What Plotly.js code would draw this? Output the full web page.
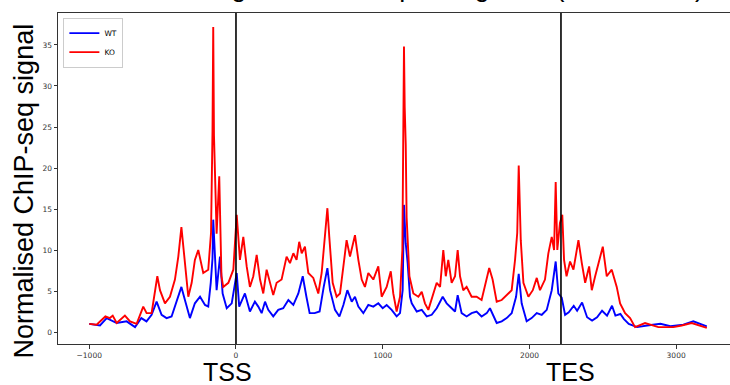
<!DOCTYPE html>
<html>
<head>
<meta charset="utf-8">
<script src="https://cdn.plot.ly/plotly-3.0.1.min.js"></script>
<style>html,body{margin:0;padding:0;background:#fff;}#chart{width:730px;height:385px;}</style>
</head>
<body>
<div id="chart"></div>
<script>
// Positions relative to the TSS (bp, scaled gene body)
const wtX = [-1000,-927,-881,-813,-745,-688,-645,-610,-575,-541,-507,-473,-439,-393,-372,-348,-314,-280,-245,-211,-189,-172,-160,-155,-145,-132,-109,-91,-63,-29,5,22,61,95,129,152,175,198,220,254,288,322,357,391,425,455,480,502,536,570,598,623,641,675,705,732,759,789,811,834,868,902,936,970,1000,1027,1061,1095,1118,1136,1145,1152,1157,1170,1186,1198,1232,1266,1300,1334,1368,1409,1436,1470,1493,1511,1538,1572,1606,1640,1674,1709,1731,1777,1811,1845,1879,1909,1927,1947,1981,2015,2050,2084,2118,2152,2179,2197,2220,2243,2268,2302,2325,2359,2393,2427,2461,2495,2529,2563,2586,2620,2643,2677,2734,2802,2893,2961,3049,3117,3163,3209];
const wtY = [1.0,0.8,1.7,1.1,1.3,0.6,1.7,1.3,2.1,3.7,2.1,1.7,1.9,4.3,5.5,3.9,1.7,3.5,4.3,3.3,3.1,6.0,9.0,13.7,10.0,5.1,9.2,4.7,2.9,3.5,7.2,3.1,4.7,2.5,3.7,3.1,2.3,3.7,2.7,1.9,2.7,2.9,3.9,3.3,4.7,6.8,4.3,2.3,2.3,2.5,5.5,7.8,5.1,2.7,1.9,3.3,5.1,3.7,4.3,3.1,2.3,3.3,3.1,3.5,2.9,3.3,2.7,1.9,2.3,5.1,15.5,11.0,10.8,8.4,4.3,3.5,2.5,2.7,1.9,2.1,2.9,4.3,3.5,2.9,2.5,4.5,2.3,1.9,2.3,2.5,1.9,2.3,2.9,1.1,1.3,1.7,2.3,4.3,7.1,3.5,1.3,1.7,2.3,2.1,2.7,5.1,8.6,4.7,4.2,2.1,2.4,3.2,2.6,3.6,1.8,1.4,1.8,2.6,2.0,3.2,2.0,2.2,1.6,1.0,0.6,0.8,1.0,0.7,0.9,1.3,1.0,0.7];

const koX = [-1000,-950,-890,-860,-840,-813,-757,-722,-677,-632,-609,-575,-536,-518,-484,-450,-416,-393,-372,-348,-325,-302,-280,-257,-223,-189,-170,-160,-155,-150,-145,-132,-114,-99,-87,-52,-18,5,27,50,73,95,118,141,164,186,209,232,254,277,311,345,368,391,413,431,448,470,493,527,561,584,607,623,636,659,686,709,732,754,777,811,834,857,879,902,936,970,993,1027,1055,1072,1095,1118,1134,1141,1145,1150,1157,1163,1168,1182,1209,1243,1266,1288,1311,1334,1368,1391,1413,1430,1447,1470,1493,1511,1527,1549,1572,1606,1640,1674,1704,1726,1749,1777,1811,1845,1879,1902,1917,1927,1941,1959,1993,2023,2050,2072,2106,2129,2152,2168,2179,2190,2208,2224,2236,2253,2277,2300,2334,2357,2380,2407,2425,2448,2475,2500,2527,2561,2595,2618,2652,2686,2720,2788,2879,2981,3038,3106,3209];
const koY = [1.0,0.9,1.9,1.7,2.0,1.1,2.0,1.3,1.0,3.1,2.3,2.3,6.8,5.1,3.5,4.3,6.4,9.2,12.8,8.4,4.3,6.0,8.8,10.0,7.2,7.6,12.1,24.5,37.2,24.0,20.0,12.0,19.0,6.8,5.5,6.0,7.6,14.3,8.8,11.6,8.0,5.5,6.8,9.4,6.4,4.7,7.6,6.0,4.5,6.0,6.4,9.2,8.4,9.6,8.8,11.0,9.6,10.4,7.2,6.6,4.7,7.2,11.6,15.1,11.6,6.0,4.3,4.7,8.0,11.2,9.2,11.8,8.8,6.4,5.5,7.2,6.4,8.0,4.3,5.5,7.4,4.7,2.5,4.3,10.0,22.0,34.8,27.4,22.8,14.0,11.6,6.8,4.7,4.3,4.9,3.5,2.7,4.1,6.0,5.5,10.0,6.8,8.8,6.0,6.8,10.0,6.8,5.1,5.5,4.3,4.3,3.9,6.0,7.8,6.4,3.7,3.9,4.5,5.1,8.8,12.1,20.3,11.2,6.0,4.3,5.1,6.6,5.1,6.4,9.6,11.6,10.0,18.3,10.0,13.3,14.3,8.8,6.8,8.6,7.6,11.2,8.4,6.0,8.0,5.1,6.8,8.8,10.4,6.8,7.6,5.5,3.5,2.3,1.7,0.6,1.1,0.6,0.6,0.8,1.1,0.5];

const seriesNames = ['WT', 'KO'];
const seriesColors = ['#0000ff', '#ff0000'];
const xTickVals = [-1000, 0, 1000, 2000, 3000];
const yTickVals = [0, 5, 10, 15, 20, 25, 30, 35];
const boundaryPos = [0, 2215];
const boundaryLabels = ['TSS', 'TES'];
const boundaryLabelPos = [-55, 2277];

const traces = [
  {x: wtX, y: wtY, name: seriesNames[0], type: 'scatter', mode: 'lines', line: {color: seriesColors[0], width: 1.9}},
  {x: koX, y: koY, name: seriesNames[1], type: 'scatter', mode: 'lines', line: {color: seriesColors[1], width: 1.9}}
];

const shapes = boundaryPos.map(p => ({
  type: 'line', xref: 'x', yref: 'paper', x0: p, x1: p, y0: 0, y1: 1,
  line: {color: '#000', width: 1.6}
}));

const annotations = boundaryLabels.map((t, i) => ({
  text: t, xref: 'x', yref: 'paper', x: boundaryLabelPos[i], y: -0.084,
  xanchor: 'center', yanchor: 'middle', showarrow: false,
  font: {family: 'Liberation Sans, Arial, sans-serif', size: 25, color: '#000'}
}));
annotations.push({
  text: 'Normalised ChIP-seq signal', xref: 'paper', yref: 'paper',
  x: -0.05, y: 0.462, xanchor: 'center', yanchor: 'middle', textangle: -90,
  showarrow: false, font: {family: 'Liberation Sans, Arial, sans-serif', size: 27, color: '#000'}
});

const layout = {
  width: 730, height: 385,
  margin: {l: 58, r: 0, t: 13, b: 41},
  paper_bgcolor: '#fff', plot_bgcolor: '#fff',
  showlegend: true,
  title: {
    text: 'H3K27ac signal across top 500 genes (KO vs. WT)',
    xref: 'container', x: 0.546, xanchor: 'center',
    yref: 'container', y: 1, yanchor: 'bottom', pad: {b: 4},
    font: {family: 'Liberation Sans, Arial, sans-serif', size: 27, color: '#000'}
  },
  xaxis: {
    range: [-1213, 3367], tickvals: xTickVals, ticks: 'outside', ticklen: 3.5, tickwidth: 1,
    tickcolor: '#333', showline: true, linecolor: '#333', linewidth: 1, mirror: true,
    showgrid: false, zeroline: false,
    tickfont: {family: 'DejaVu Sans, sans-serif', size: 7.5, color: '#333'}
  },
  yaxis: {
    range: [-1.46, 38.9], tickvals: yTickVals, ticks: 'outside', ticklen: 3.5, tickwidth: 1,
    tickcolor: '#333', showline: true, linecolor: '#333', linewidth: 1,
    showgrid: false, zeroline: false,
    tickfont: {family: 'DejaVu Sans, sans-serif', size: 7.5, color: '#333'}
  },
  legend: {
    x: 0.008, y: 0.986, xanchor: 'left', yanchor: 'top',
    bgcolor: '#fff', bordercolor: '#cccccc', borderwidth: 1,
    font: {family: 'DejaVu Sans, sans-serif', size: 7.5, color: '#000'},
    itemwidth: 30, tracegroupgap: 0
  },
  shapes: shapes,
  annotations: annotations
};

Plotly.newPlot('chart', traces, layout, {displayModeBar: false, staticPlot: true});
</script>
</body>
</html>
